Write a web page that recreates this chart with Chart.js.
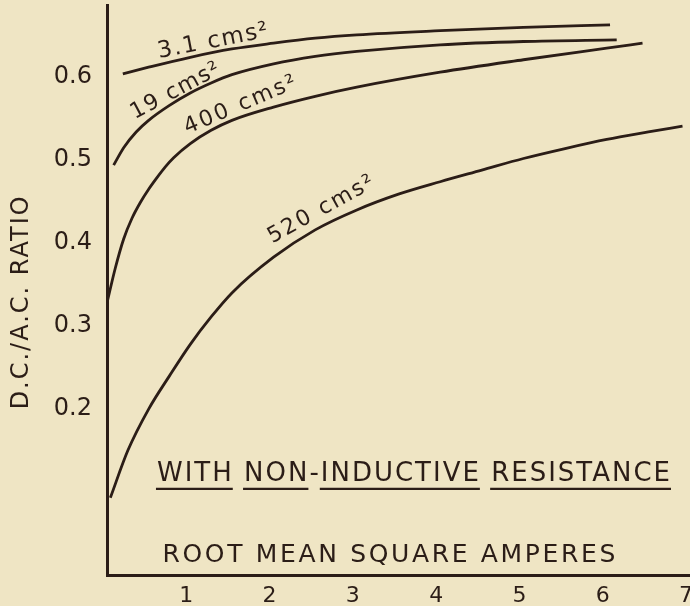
<!DOCTYPE html>
<html>
<head>
<meta charset="utf-8">
<script src="https://cdn.jsdelivr.net/npm/chart.js@4.4.1/dist/chart.umd.min.js"></script>
<style>
  html, body { margin: 0; padding: 0; background: #efe5c4; }
</style>
</head>
<body>
<canvas id="ratioChart" width="690" height="606"></canvas>
<script>
// root mean square amperes (x) vs D.C./A.C. ratio (y), one pair of arrays per curve
const amps31 = [0.19, 0.5, 1.0, 1.5, 2.0, 2.5, 3.0, 4.0, 5.0, 6.04];
const ratio31 = [0.604, 0.612, 0.624, 0.634, 0.641, 0.647, 0.651, 0.656, 0.660, 0.663];

const amps19 = [0.08, 0.2, 0.35, 0.5, 0.75, 1.0, 1.25, 1.5, 2.0, 2.5, 3.0, 4.0, 5.0, 6.12];
const ratio19 = [0.494, 0.515, 0.534, 0.548, 0.566, 0.581, 0.593, 0.603, 0.616, 0.625, 0.631, 0.639, 0.643, 0.645];

const amps400 = [0, 0.1, 0.2, 0.3, 0.4, 0.5, 0.6, 0.7, 0.8, 1.0, 1.25, 1.5, 2.0, 2.5, 3.0, 4.0, 5.0, 6.0, 6.43];
const ratio400 = [0.328, 0.370, 0.405, 0.430, 0.449, 0.465, 0.479, 0.492, 0.503, 0.520, 0.536, 0.548, 0.564, 0.577, 0.588, 0.606, 0.621, 0.635, 0.641];

const amps520 = [0.04, 0.25, 0.5, 0.75, 1.0, 1.25, 1.5, 2.0, 2.5, 3.0, 3.5, 4.0, 4.5, 5.0, 5.5, 6.0, 6.5, 6.91];
const ratio520 = [0.093, 0.150, 0.200, 0.240, 0.278, 0.311, 0.340, 0.383, 0.416, 0.440, 0.459, 0.474, 0.488, 0.502, 0.514, 0.525, 0.534, 0.541];

const curveNames = ['3.1 cms²', '19 cms²', '400 cms²', '520 cms²'];
const xTickValues = [1, 2, 3, 4, 5, 6, 7];
const yTickValues = [0.2, 0.3, 0.4, 0.5, 0.6];

const ink = '#2b1d17';
const paper = '#efe5c4';
const hand = '"DejaVu Sans", sans-serif';

function toPoints(xs, ys) {
    return xs.map((x, i) => ({ x: x, y: ys[i] }));
}

// draw text centred on (x, y), stretched with letter spacing to a given width
function handText(ctx, text, x, y, size, width, angle) {
    ctx.save();
    ctx.translate(x, y);
    ctx.rotate((angle || 0) * Math.PI / 180);
    ctx.font = size + 'px ' + hand;
    ctx.fillStyle = ink;
    ctx.textBaseline = 'middle';
    ctx.textAlign = 'left';
    let ls = 0;
    if (width && 'letterSpacing' in ctx) {
        const w = ctx.measureText(text).width;
        ls = (width - w) / (text.length - 1);
        ctx.letterSpacing = ls + 'px';
    }
    const real = ctx.measureText(text).width - ls;
    ctx.fillText(text, -real / 2, 0);
    ctx.restore();
}

// words drawn left to right, some of them underlined
function underlinedLine(ctx, parts, x0, y, size, ls) {
    ctx.save();
    ctx.font = size + 'px ' + hand;
    ctx.fillStyle = ink;
    ctx.strokeStyle = ink;
    ctx.lineWidth = 2.2;
    ctx.textBaseline = 'middle';
    if ('letterSpacing' in ctx) ctx.letterSpacing = ls + 'px';
    let x = x0;
    parts.forEach(p => {
        const w = ctx.measureText(p.t).width;
        ctx.fillText(p.t, x, y);
        if (p.u) {
            ctx.beginPath();
            ctx.moveTo(x - 1, y + 15);
            ctx.lineTo(x + w - ls + 1, y + 15);
            ctx.stroke();
        }
        x += w;
    });
    ctx.restore();
}

const paperPlugin = {
    id: 'paper',
    beforeDraw(chart) {
        const ctx = chart.ctx;
        ctx.save();
        ctx.fillStyle = paper;
        ctx.fillRect(0, 0, chart.width, chart.height);
        ctx.restore();
    }
};

const notesPlugin = {
    id: 'notes',
    afterDraw(chart) {
        const ctx = chart.ctx;
        const xs = chart.scales.x, ys = chart.scales.y;
        const px = v => xs.getPixelForValue(v);
        const py = v => ys.getPixelForValue(v);

        // curve names, written along each curve
        handText(ctx, curveNames[0], px(1.27), py(0.643), 23, 112, -11);
        handText(ctx, curveNames[1], px(0.82), py(0.583), 22, 98, -28);
        handText(ctx, curveNames[2], px(1.60), py(0.566), 22, 120, -23);
        handText(ctx, curveNames[3], px(2.57), py(0.44), 22, 118, -29);

        underlinedLine(ctx, [
            { t: 'WITH', u: true }, { t: ' ' }, { t: 'NON', u: true }, { t: '-' },
            { t: 'INDUCTIVE', u: true }, { t: ' ' }, { t: 'RESISTANCE', u: true }
        ], px(0.60), py(0.122), 26, 2.0);

        handText(ctx, 'ROOT MEAN SQUARE AMPERES', (px(0.67) + px(6.10)) / 2, py(0.023), 25, 453, 0);

        handText(ctx, 'D.C./A.C. RATIO', 22, py(0.328), 24, 213, -90);
    }
};

new Chart(document.getElementById('ratioChart'), {
    type: 'scatter',
    data: {
        datasets: [
            { label: curveNames[0], data: toPoints(amps31, ratio31) },
            { label: curveNames[1], data: toPoints(amps19, ratio19) },
            { label: curveNames[2], data: toPoints(amps400, ratio400) },
            { label: curveNames[3], data: toPoints(amps520, ratio520) }
        ].map(d => Object.assign(d, {
            showLine: true,
            borderColor: ink,
            borderWidth: 2.8,
            pointRadius: 0,
            cubicInterpolationMode: 'monotone',
            fill: false
        }))
    },
    options: {
        responsive: false,
        animation: false,
        layout: { padding: { top: 5, left: 0, right: 0, bottom: 0 } },
        plugins: {
            legend: { display: false },
            tooltip: { enabled: false }
        },
        scales: {
            x: {
                type: 'linear',
                min: 0,
                max: 7,
                grid: { display: false },
                border: { display: true, color: ink, width: 3 },
                ticks: {
                    stepSize: 1,
                    color: ink,
                    padding: 0,
                    labelOffset: -4,
                    font: { family: hand, size: 22 },
                    callback: v => xTickValues.includes(v) ? String(v) : ''
                },
                afterFit(scale) {
                    scale.height = 31;
                    scale.paddingLeft = 0;
                    scale.paddingRight = 0;
                }
            },
            y: {
                type: 'linear',
                min: 0,
                max: 0.687,
                grid: { display: false },
                border: { display: true, color: ink, width: 3 },
                ticks: {
                    stepSize: 0.1,
                    color: ink,
                    padding: 7,
                    font: { family: hand, size: 24 },
                    callback: v => yTickValues.some(t => Math.abs(t - v) < 1e-6) ? v.toFixed(1) : ''
                },
                afterFit(scale) {
                    scale.width = 107;
                    scale.paddingTop = 0;
                    scale.paddingBottom = 0;
                }
            }
        }
    },
    plugins: [paperPlugin, notesPlugin]
});
</script>
</body>
</html>
